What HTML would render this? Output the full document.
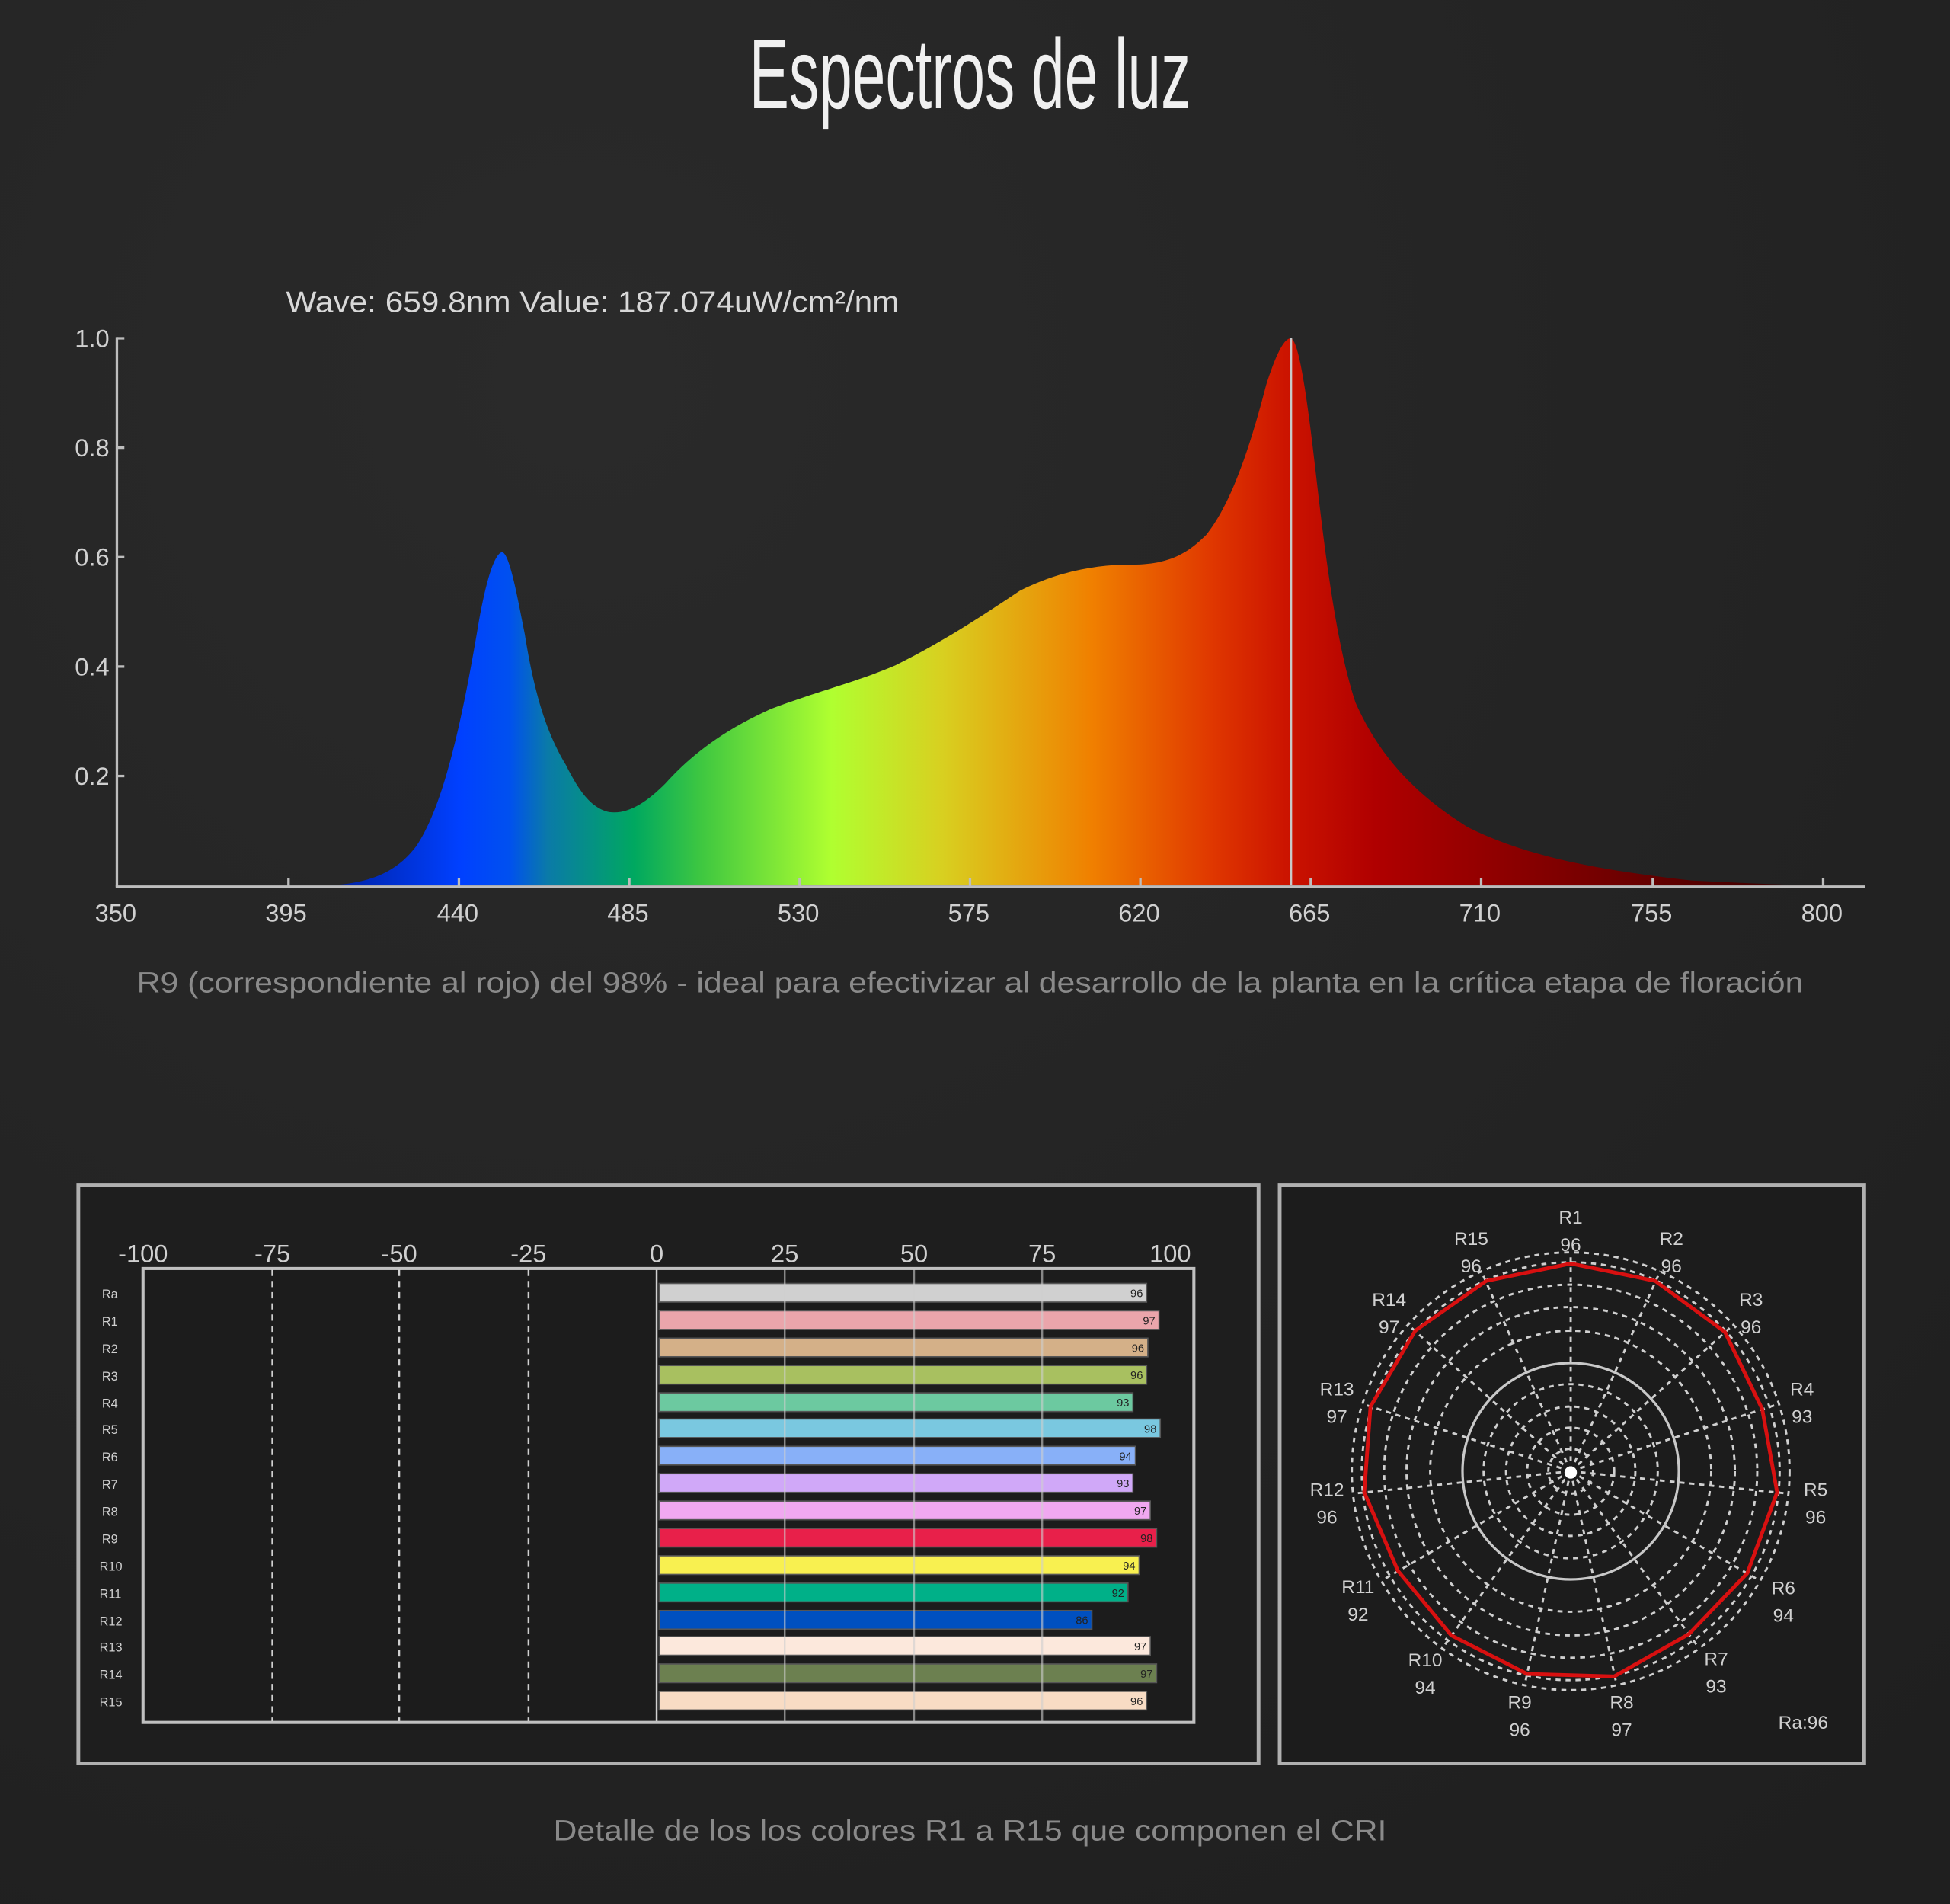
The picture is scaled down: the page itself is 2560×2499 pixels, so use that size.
<!DOCTYPE html>
<html><head><meta charset="utf-8"><style>
html,body{margin:0;padding:0;background:#232323;}
svg{display:block;}
</style></head><body>
<svg width="2560" height="2499" viewBox="0 0 1568 1531" preserveAspectRatio="none" xmlns="http://www.w3.org/2000/svg" font-family="Liberation Sans, sans-serif">
<defs>
<radialGradient id="bg" cx="0.3" cy="0.2" r="1">
<stop offset="0" stop-color="#2a2a2a"/><stop offset="1" stop-color="#1f1f1f"/>
</radialGradient>
<linearGradient id="spec" x1="265" x2="1466" y1="0" y2="0" gradientUnits="userSpaceOnUse">
<stop offset="0" stop-color="#0020a0"/>
<stop offset="0.087" stop-color="#0040ff"/>
<stop offset="0.12" stop-color="#0050f0"/>
<stop offset="0.146" stop-color="#0a7aa8"/>
<stop offset="0.204" stop-color="#00a860"/>
<stop offset="0.25" stop-color="#40c840"/>
<stop offset="0.336" stop-color="#b0ff30"/>
<stop offset="0.41" stop-color="#d8d020"/>
<stop offset="0.51" stop-color="#f08000"/>
<stop offset="0.59" stop-color="#e03800"/>
<stop offset="0.64" stop-color="#cc1400"/>
<stop offset="0.7" stop-color="#b00000"/>
<stop offset="0.86" stop-color="#700000"/>
<stop offset="1" stop-color="#300000"/>
</linearGradient>
</defs>
<rect width="1568" height="1531" fill="url(#bg)"/>
<text x="780" y="87" text-anchor="middle" font-size="80" fill="#f0f0f0" textLength="355" lengthAdjust="spacingAndGlyphs">Espectros de luz</text>
<text x="230" y="251" font-size="24" fill="#d8d8d8" textLength="493" lengthAdjust="spacingAndGlyphs">Wave: 659.8nm Value: 187.074uW/cm²/nm</text>
<!-- spectrum -->
<path fill="url(#spec)" d="M265,712 C300,710 320,700 335,680 C355,650 370,590 385,500 C393,455 400,444 404,444 C410,446 416,480 422,510 C430,560 440,590 455,615 C465,635 475,650 490,653 C505,655 520,645 535,630 C555,608 580,588 620,570 C660,555 690,548 720,535 C760,515 790,495 820,475 C850,460 880,454 910,454 C940,454 955,445 970,430 C990,405 1005,360 1018,310 C1027,282 1033,272 1038,272 C1044,274 1050,310 1058,380 C1066,450 1075,520 1090,565 C1110,610 1140,640 1180,665 C1230,690 1290,700 1360,708 C1420,711 1450,712 1466,712 Z"/>
<line x1="1038" y1="272" x2="1038" y2="712" stroke="#c8c8c8" stroke-width="2"/>
<g stroke="#bdbdbd" stroke-width="2" fill="none">
<line x1="94" y1="271" x2="94" y2="713"/>
<line x1="93" y1="713" x2="1500" y2="713"/>
<line x1="94" y1="272" x2="100" y2="272"/><line x1="94" y1="360" x2="100" y2="360"/><line x1="94" y1="448" x2="100" y2="448"/><line x1="94" y1="536" x2="100" y2="536"/><line x1="94" y1="624" x2="100" y2="624"/>
<line x1="232" y1="706" x2="232" y2="713"/><line x1="369" y1="706" x2="369" y2="713"/><line x1="506" y1="706" x2="506" y2="713"/><line x1="643" y1="706" x2="643" y2="713"/><line x1="780" y1="706" x2="780" y2="713"/><line x1="917" y1="706" x2="917" y2="713"/><line x1="1054" y1="706" x2="1054" y2="713"/><line x1="1191" y1="706" x2="1191" y2="713"/><line x1="1329" y1="706" x2="1329" y2="713"/><line x1="1466" y1="706" x2="1466" y2="713"/>
</g>
<g font-size="20" fill="#d0d0d0" text-anchor="end">
<text x="88" y="279">1.0</text><text x="88" y="367">0.8</text><text x="88" y="455">0.6</text><text x="88" y="543">0.4</text><text x="88" y="631">0.2</text>
</g>
<g font-size="20" fill="#d0d0d0" text-anchor="middle">
<text x="93" y="741">350</text><text x="230" y="741">395</text><text x="368" y="741">440</text><text x="505" y="741">485</text><text x="642" y="741">530</text><text x="779" y="741">575</text><text x="916" y="741">620</text><text x="1053" y="741">665</text><text x="1190" y="741">710</text><text x="1328" y="741">755</text><text x="1465" y="741">800</text>
</g>
<text x="780" y="798" text-anchor="middle" font-size="23" fill="#8a8a8a" textLength="1340" lengthAdjust="spacingAndGlyphs">R9 (correspondiente al rojo) del 98% - ideal para efectivizar al desarrollo de la planta en la crítica etapa de floración</text>

<!-- bar panel -->
<rect x="63" y="953" width="949" height="465" fill="#1e1e1e" stroke="#b0b0b0" stroke-width="3"/>
<rect x="115" y="1020" width="845" height="365" fill="#1c1c1c" stroke="#c0c0c0" stroke-width="2.5"/>
<g stroke="#d0d0d0" stroke-width="1.5" stroke-dasharray="5,4">
<line x1="219" y1="1021" x2="219" y2="1384"/><line x1="321" y1="1021" x2="321" y2="1384"/><line x1="425" y1="1021" x2="425" y2="1384"/>
</g>
<line x1="528" y1="1021" x2="528" y2="1384" stroke="#d0d0d0" stroke-width="1.5"/>
<g font-size="20" fill="#d0d0d0" text-anchor="middle">
<text x="115" y="1015">-100</text><text x="219" y="1015">-75</text><text x="321" y="1015">-50</text><text x="425" y="1015">-25</text><text x="528" y="1015">0</text><text x="631" y="1015">25</text><text x="735" y="1015">50</text><text x="838" y="1015">75</text><text x="941" y="1015">100</text>
</g>
<g stroke="#555" stroke-width="1">
<rect x="530" y="1032" width="392" height="15" fill="#d0d0d0"/>
<rect x="530" y="1054" width="402" height="15" fill="#eaa5ab"/>
<rect x="530" y="1076" width="393" height="15" fill="#d4b088"/>
<rect x="530" y="1098" width="392" height="15" fill="#a8c060"/>
<rect x="530" y="1120" width="381" height="15" fill="#6cc9a0"/>
<rect x="530" y="1141" width="403" height="15" fill="#7ac8e0"/>
<rect x="530" y="1163" width="383" height="15" fill="#88b0f8"/>
<rect x="530" y="1185" width="381" height="15" fill="#d0a8f8"/>
<rect x="530" y="1207" width="395" height="15" fill="#f0a8f0"/>
<rect x="530" y="1229" width="400" height="15" fill="#e8204a"/>
<rect x="530" y="1251" width="386" height="15" fill="#f8f050"/>
<rect x="530" y="1273" width="377" height="15" fill="#00b088"/>
<rect x="530" y="1295" width="348" height="15" fill="#0050c0"/>
<rect x="530" y="1316" width="395" height="15" fill="#fce8dc"/>
<rect x="530" y="1338" width="400" height="15" fill="#6c8050"/>
<rect x="530" y="1360" width="392" height="15" fill="#f8dcc4"/>
</g>
<g stroke="#cfcfcf" stroke-width="1.5" opacity="0.6">
<line x1="631" y1="1021" x2="631" y2="1384"/><line x1="735" y1="1021" x2="735" y2="1384"/><line x1="838" y1="1021" x2="838" y2="1384"/>
</g>
<g font-size="9" fill="#222" text-anchor="end">
<text x="919" y="1043">96</text><text x="929" y="1065">97</text><text x="920" y="1087">96</text><text x="919" y="1109">96</text><text x="908" y="1131">93</text><text x="930" y="1152">98</text><text x="910" y="1174">94</text><text x="908" y="1196">93</text><text x="922" y="1218">97</text><text x="927" y="1240">98</text><text x="913" y="1262">94</text><text x="904" y="1284">92</text><text x="875" y="1306">86</text><text x="922" y="1327">97</text><text x="927" y="1349">97</text><text x="919" y="1371">96</text>
</g>
<g font-size="10" fill="#d0d0d0">
<text x="82" y="1044">Ra</text><text x="82" y="1066">R1</text><text x="82" y="1088">R2</text><text x="82" y="1110">R3</text><text x="82" y="1132">R4</text><text x="82" y="1153">R5</text><text x="82" y="1175">R6</text><text x="82" y="1197">R7</text><text x="82" y="1219">R8</text><text x="82" y="1241">R9</text><text x="80" y="1263">R10</text><text x="80" y="1285">R11</text><text x="80" y="1307">R12</text><text x="80" y="1328">R13</text><text x="80" y="1350">R14</text><text x="80" y="1372">R15</text>
</g>

<!-- polar panel -->
<rect x="1029" y="953" width="470" height="465" fill="#1c1c1c" stroke="#b0b0b0" stroke-width="3"/>
<g fill="none" stroke="#cfcfcf" stroke-width="1.8" stroke-dasharray="4,4">
<circle cx="1263" cy="1183" r="176"/><circle cx="1263" cy="1183" r="168"/><circle cx="1263" cy="1183" r="150"/><circle cx="1263" cy="1183" r="132"/><circle cx="1263" cy="1183" r="113"/>
<circle cx="1263" cy="1183" r="70"/><circle cx="1263" cy="1183" r="52"/><circle cx="1263" cy="1183" r="35"/><circle cx="1263" cy="1183" r="18"/>
<path d="M1263,1183L1263,1007M1263,1183L1335,1022M1263,1183L1394,1065M1263,1183L1430,1129M1263,1183L1438,1201M1263,1183L1415,1271M1263,1183L1366,1325M1263,1183L1300,1355M1263,1183L1226,1355M1263,1183L1160,1325M1263,1183L1111,1271M1263,1183L1088,1201M1263,1183L1096,1129M1263,1183L1132,1065M1263,1183L1191,1022"/>
</g>
<circle cx="1263" cy="1183" r="87" fill="none" stroke="#c8c8c8" stroke-width="2"/>
<circle cx="1263" cy="1184" r="5" fill="#fff"/>
<polygon points="1263,1016 1331,1030 1387,1071 1417,1133 1429,1200 1405,1265 1358,1314 1298,1348 1228,1346 1167,1315 1124,1263 1097,1200 1102,1131 1138,1070 1195,1030" fill="none" stroke="#d81010" stroke-width="3"/>
<g font-size="15" fill="#d0d0d0" text-anchor="middle">
<text x="1263" y="984">R1</text><text x="1263" y="1006">96</text>
<text x="1344" y="1001">R2</text><text x="1344" y="1023">96</text>
<text x="1408" y="1050">R3</text><text x="1408" y="1072">96</text>
<text x="1449" y="1122">R4</text><text x="1449" y="1144">93</text>
<text x="1460" y="1203">R5</text><text x="1460" y="1225">96</text>
<text x="1434" y="1282">R6</text><text x="1434" y="1304">94</text>
<text x="1380" y="1339">R7</text><text x="1380" y="1361">93</text>
<text x="1304" y="1374">R8</text><text x="1304" y="1396">97</text>
<text x="1222" y="1374">R9</text><text x="1222" y="1396">96</text>
<text x="1146" y="1340">R10</text><text x="1146" y="1362">94</text>
<text x="1092" y="1281">R11</text><text x="1092" y="1303">92</text>
<text x="1067" y="1203">R12</text><text x="1067" y="1225">96</text>
<text x="1075" y="1122">R13</text><text x="1075" y="1144">97</text>
<text x="1117" y="1050">R14</text><text x="1117" y="1072">97</text>
<text x="1183" y="1001">R15</text><text x="1183" y="1023">96</text>
<text x="1450" y="1390">Ra:96</text>
</g>
<text x="780" y="1480" text-anchor="middle" font-size="23" fill="#8a8a8a" textLength="670" lengthAdjust="spacingAndGlyphs">Detalle de los los colores R1 a R15 que componen el CRI</text>
</svg>
</body></html>
